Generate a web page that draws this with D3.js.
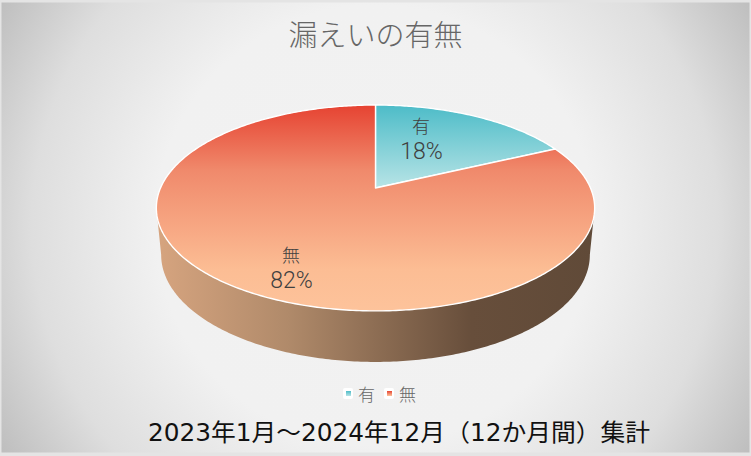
<!DOCTYPE html>
<html><head><meta charset="utf-8">
<script src="https://cdn.jsdelivr.net/npm/d3@7/dist/d3.min.js"></script>
<style>html,body{margin:0;padding:0;background:#fff;overflow:hidden}svg{display:block}
text{font-family:"Noto Sans CJK JP","Noto Sans",sans-serif}</style></head><body>
<script>
const categories = ["有","無"];
const values = [18,82];
const percentLabels = ["18%","82%"];
const chartTitle = "漏えいの有無";
const caption = "2023年1月～2024年12月（12か月間）集計";

const W=751,H=456;
const svg=d3.select("body").append("svg").attr("width",W).attr("height",H);
const defs=svg.append("defs");
function grad(id,stops,a,radial){
  const g=defs.append(radial?"radialGradient":"linearGradient").attr("id",id).attr("gradientUnits","userSpaceOnUse");
  Object.entries(a).forEach(([k,v])=>g.attr(k,v));
  stops.forEach(s=>g.append("stop").attr("offset",s[0]).attr("stop-color",s[1]));
}
grad("bg",[[0,"#f2f2f2"],[0.5,"#f1f1f1"],[0.78,"#dedede"],[1,"#bdbdbd"]],{cx:375,cy:225,r:440},true);
grad("teal",[[0,"#4dbcc8"],[1,"#b8e4e6"]],{x1:0,y1:105,x2:0,y2:188});
grad("orange",[[0,"#e64332"],[0.32,"#f08a6c"],[0.8,"#fcbd94"],[1,"#fdc39b"]],{x1:0,y1:105,x2:0,y2:311});
grad("side",[[0,"#d6a47f"],[0.3,"#b08a6a"],[0.72,"#674e3b"],[1,"#604a38"]],{x1:157,y1:0,x2:594,y2:0});
grad("sw1",[[0,"#4dbcc8"],[1,"#b8e4e6"]],{x1:0,y1:391,x2:0,y2:396});
grad("sw2",[[0,"#e64332"],[1,"#fdc39b"]],{x1:0,y1:391,x2:0,y2:396});

svg.append("rect").attr("width",W).attr("height",H).attr("fill","#e4e4e4");
svg.append("rect").attr("x",1.5).attr("y",2.5).attr("width",W-3).attr("height",H-6).attr("fill","url(#bg)");

// perspective projection of the pie disc
const cx=375.5,A=215,p=0.194,b0=188,a0=-62.6;
const rimTop=t=>{const u=Math.sin(t),v=Math.cos(t),d=1+p*v;return [cx+A*u/d,(a0*v+b0)/d];};
const rimBottom=t=>{const q=rimTop(t);return [cx+(q[0]-cx)*0.978,362-(311-q[1])*1.04];};
const line=d3.line();
const arcPts=(f,a,b)=>{const n=Math.max(2,Math.ceil(Math.abs(b-a)*80));return d3.range(n+1).map(i=>f(a+(b-a)*i/n));};

// side wall, between the widest points of the two rims
const lo=Math.acos(-p),hi=2*Math.PI-lo;
svg.append("path").attr("d",line(arcPts(rimTop,lo,hi).concat(arcPts(rimBottom,hi,lo)))+"Z").attr("fill","url(#side)");

// top surface
const pie=d3.pie().sort(null)(values);
const fills=["url(#teal)","url(#orange)"];
svg.selectAll("path.slice").data(pie).enter().append("path").attr("class","slice")
 .attr("d",d=>line([[cx,b0]].concat(arcPts(rimTop,d.startAngle,d.endAngle)))+"Z")
 .attr("fill",(d,i)=>fills[i]).attr("stroke","#fff").attr("stroke-width",1.4).attr("stroke-linejoin","round");

// title
svg.append("text").attr("x",375.5).attr("y",46).attr("text-anchor","middle").attr("font-size",29).attr("font-weight",300).attr("fill","#666").text(chartTitle);

// data labels
const lab=[[421,133,159],[291,262,288]];
categories.forEach((c,i)=>{
  svg.append("text").attr("x",lab[i][0]).attr("y",lab[i][1]).attr("text-anchor","middle").attr("font-size",18).attr("font-weight",300).attr("fill","#404040").text(c);
  svg.append("text").attr("x",lab[i][0]+0.5).attr("y",lab[i][2]).attr("text-anchor","middle").attr("font-size",23).attr("font-weight",300).attr("fill","#404040").style("font-family","Roboto,'Noto Sans'").text(percentLabels[i]);
});

// legend
categories.forEach((c,i)=>{
  const x=[343,384][i];
  svg.append("rect").attr("x",x).attr("y",388).attr("width",10).attr("height",11).attr("rx",2).attr("fill","#fff");
  svg.append("rect").attr("x",x+3).attr("y",391).attr("width",5).attr("height",5).attr("fill",`url(#sw${i+1})`);
  svg.append("text").attr("x",x+15).attr("y",401).attr("font-size",17).attr("font-weight",300).attr("fill","#666").text(c);
});

// caption
svg.append("text").attr("x",148).attr("y",441).attr("font-size",24).attr("fill","#111").style("font-family","'DejaVu Sans','Noto Sans CJK JP'").attr("textLength",502).attr("lengthAdjust","spacingAndGlyphs").text(caption);
</script></body></html>
